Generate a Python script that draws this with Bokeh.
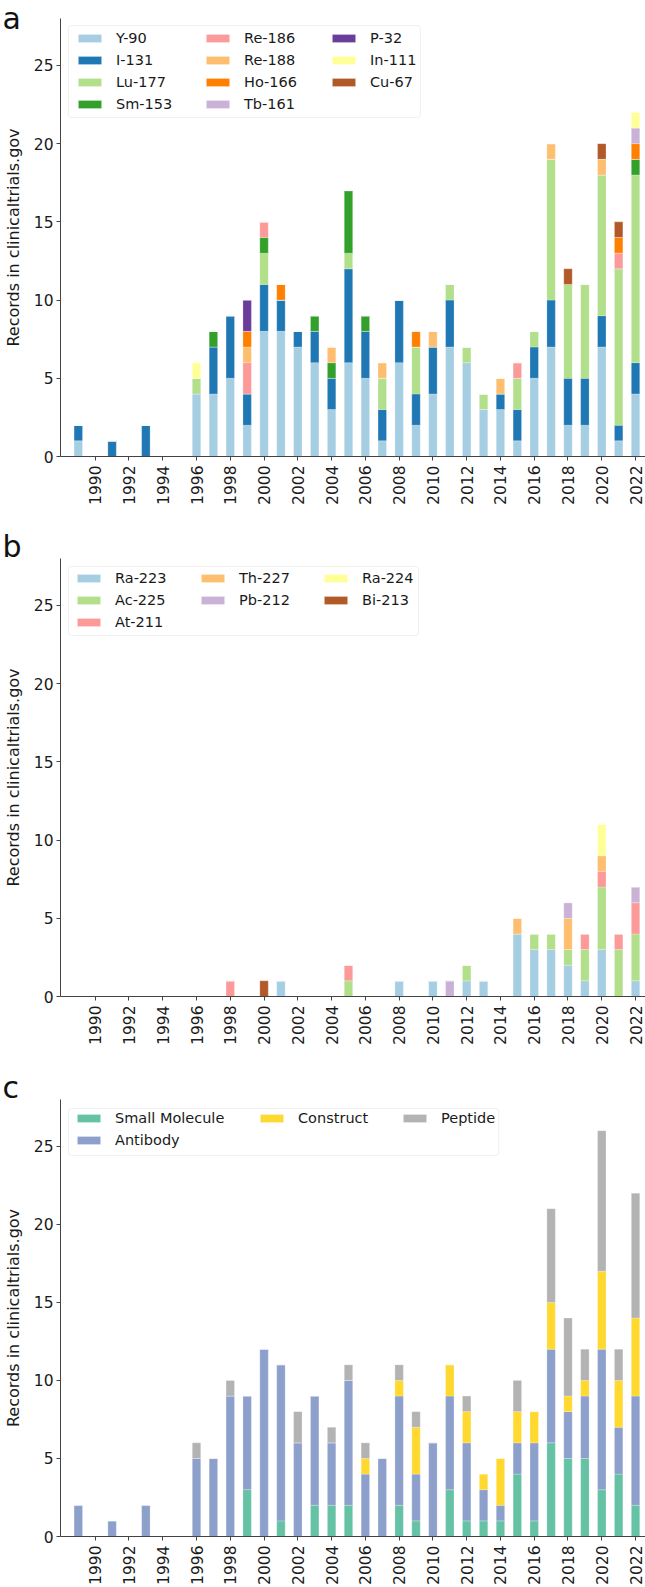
import numpy as np
from bokeh.plotting import figure
from bokeh.layouts import column
from bokeh.models import (ColumnDataSource, Legend, LegendItem, FixedTicker,
                          Range1d, BoxAnnotation)
from bokeh.embed import file_html
from bokeh.resources import INLINE

# ---------------- data ----------------
years = list(range(1989, 2023))
year_ticks = list(range(1990, 2023, 2))
y_ticks = [0, 5, 10, 15, 20, 25]
y_label = "Records in clinicaltrials.gov"

# panel a : beta / other emitters (records per year)
a_labels = ["Y-90", "I-131", "Lu-177", "Sm-153", "Re-186", "Re-188",
            "Ho-166", "Tb-161", "P-32", "In-111", "Cu-67"]
a_colors = ["#a6cee3", "#1f78b4", "#b2df8a", "#33a02c", "#fb9a99", "#fdbf6f",
            "#ff7f00", "#cab2d6", "#6a3d9a", "#ffff99", "#b15928"]
y90 = {1989: 1, 1996: 4, 1997: 4, 1998: 5, 1999: 2, 2000: 8, 2001: 8, 2002: 7, 2003: 6,
       2004: 3, 2005: 6, 2006: 5, 2007: 1, 2008: 6, 2009: 2, 2010: 4, 2011: 7, 2012: 6,
       2013: 3, 2014: 3, 2015: 1, 2016: 5, 2017: 7, 2018: 2, 2019: 2, 2020: 7, 2021: 1, 2022: 4}
i131 = {1989: 1, 1991: 1, 1993: 2, 1997: 3, 1998: 4, 1999: 2, 2000: 3, 2001: 2, 2002: 1,
        2003: 2, 2004: 2, 2005: 6, 2006: 3, 2007: 2, 2008: 4, 2009: 2, 2010: 3, 2011: 3,
        2014: 1, 2015: 2, 2016: 2, 2017: 3, 2018: 3, 2019: 3, 2020: 2, 2021: 1, 2022: 2}
lu177 = {1996: 1, 2000: 2, 2005: 1, 2007: 2, 2009: 3, 2011: 1, 2012: 1, 2013: 1, 2015: 2,
         2016: 1, 2017: 9, 2018: 6, 2019: 6, 2020: 9, 2021: 10, 2022: 12}
sm153 = {1997: 1, 2000: 1, 2003: 1, 2004: 1, 2005: 4, 2006: 1, 2022: 1}
re186 = {1999: 2, 2000: 1, 2015: 1, 2021: 1}
re188 = {1999: 1, 2004: 1, 2007: 1, 2010: 1, 2014: 1, 2017: 1, 2020: 1}
ho166 = {1999: 1, 2001: 1, 2009: 1, 2021: 1, 2022: 1}
tb161 = {2022: 1}
p32 = {1999: 2}
in111 = {1996: 1, 2022: 1}
cu67 = {2018: 1, 2020: 1, 2021: 1}
a_series = [y90, i131, lu177, sm153, re186, re188, ho166, tb161, p32, in111, cu67]

# panel b : alpha emitters
b_labels = ["Ra-223", "Ac-225", "At-211", "Th-227", "Pb-212", "Ra-224", "Bi-213"]
b_colors = ["#a6cee3", "#b2df8a", "#fb9a99", "#fdbf6f", "#cab2d6", "#ffff99", "#b15928"]
ra223 = {2001: 1, 2008: 1, 2010: 1, 2012: 1, 2013: 1, 2015: 4, 2016: 3, 2017: 3,
         2018: 2, 2019: 1, 2020: 3, 2022: 1}
ac225 = {2005: 1, 2012: 1, 2016: 1, 2017: 1, 2018: 1, 2019: 2, 2020: 4, 2021: 3, 2022: 3}
at211 = {1998: 1, 2005: 1, 2019: 1, 2020: 1, 2021: 1, 2022: 2}
th227 = {2015: 1, 2018: 2, 2020: 1}
pb212 = {2011: 1, 2018: 1, 2022: 1}
ra224 = {2020: 2}
bi213 = {2000: 1}
b_series = [ra223, ac225, at211, th227, pb212, ra224, bi213]

# panel c : carrier molecule type
c_labels = ["Small Molecule", "Antibody", "Construct", "Peptide"]
c_colors = ["#66c2a5", "#8da0cb", "#ffd92f", "#b3b3b3"]
small_molecule = {1999: 3, 2001: 1, 2003: 2, 2004: 2, 2005: 2, 2008: 2, 2009: 1, 2011: 3,
                  2012: 1, 2013: 1, 2014: 1, 2015: 4, 2016: 1, 2017: 6, 2018: 5, 2019: 5,
                  2020: 3, 2021: 4, 2022: 2}
antibody = {1989: 2, 1991: 1, 1993: 2, 1996: 5, 1997: 5, 1998: 9, 1999: 6, 2000: 12,
            2001: 10, 2002: 6, 2003: 7, 2004: 4, 2005: 8, 2006: 4, 2007: 5, 2008: 7,
            2009: 3, 2010: 6, 2011: 6, 2012: 5, 2013: 2, 2014: 1, 2015: 2, 2016: 5,
            2017: 6, 2018: 3, 2019: 4, 2020: 9, 2021: 3, 2022: 7}
construct = {2006: 1, 2008: 1, 2009: 3, 2011: 2, 2012: 2, 2013: 1, 2014: 3, 2015: 2,
             2016: 2, 2017: 3, 2018: 1, 2019: 1, 2020: 5, 2021: 3, 2022: 5}
peptide = {1996: 1, 1998: 1, 2002: 2, 2004: 1, 2005: 1, 2006: 1, 2008: 1, 2009: 1,
           2012: 1, 2015: 2, 2017: 6, 2018: 5, 2019: 2, 2020: 9, 2021: 2, 2022: 8}
c_series = [small_molecule, antibody, construct, peptide]

# ---------------- layout ----------------
FONT = "DejaVu Sans"
W = 645
BORDER_L = 55
BORDER_R = 0
FRAME_W = W - BORDER_L - BORDER_R
FRAME_H = 438
PPX = 17.03
X0 = 1987.945
X1 = X0 + FRAME_W / PPX
Y0, Y1 = 0, 28
PPY = FRAME_H / (Y1 - Y0)
LH, SP, ROW_TOP = 18, 4, 11   # legend row height, row gap, first-row top (px)


def px_x(dx):          # pixels from frame left -> data x
    return X0 + dx / PPX


def px_y(dy):          # pixels below frame top -> data y
    return Y1 - dy / PPY


def panel(letter, labels, colors, series, columns, col_x, box, top, bottom, standoff):
    height = top + FRAME_H + bottom
    p = figure(width=W, height=height, output_backend="svg", toolbar_location=None,
               x_range=Range1d(X0, X1), y_range=Range1d(Y0, Y1),
               min_border_left=BORDER_L, min_border_right=BORDER_R,
               min_border_top=top, min_border_bottom=bottom)
    data = {"x": years}
    for lab, d in zip(labels, series):
        data[lab] = [d.get(yr, 0) for yr in years]
    src = ColumnDataSource(data)
    rends = p.vbar_stack(labels, x="x", width=0.5, color=colors, source=src,
                         line_color="white", line_width=0.4, line_alpha=0.6)
    rmap = dict(zip(labels, rends))

    l, t, r, b = box
    p.add_layout(BoxAnnotation(left=px_x(l), right=px_x(r), top=px_y(t), bottom=px_y(b),
                               fill_color="white", fill_alpha=0.8,
                               line_color="#cccccc", line_width=1, border_radius=3))
    for col, cx in zip(columns, col_x):
        n = len(col)
        h = n * LH + (n - 1) * SP
        leg = Legend(items=[LegendItem(label=c, renderers=[rmap[c]]) for c in col],
                     location=(cx, FRAME_H - ROW_TOP - h), orientation="vertical",
                     margin=0, padding=0, spacing=SP, glyph_width=29, glyph_height=10,
                     label_height=LH, label_standoff=12, label_text_font=FONT,
                     label_text_font_size="14.5px", label_text_color="#1a1a1a",
                     border_line_alpha=0, background_fill_alpha=0)
        p.add_layout(leg)

    # panel letter as the plot title, pulled to the left edge of the canvas
    p.title.text = letter
    p.title.align = "left"
    p.title.vertical_align = "middle"
    p.title.offset = -58
    p.title.text_font = FONT
    p.title.text_font_size = "30px"
    p.title.text_font_style = "normal"
    p.title.text_color = "#111111"
    try:
        p.title.standoff = standoff
    except Exception:
        p.title.standoff = 0

    p.outline_line_color = None
    p.xgrid.visible = False
    p.ygrid.visible = False
    for ax in (p.xaxis[0], p.yaxis[0]):
        ax.axis_line_color = "#444444"
        ax.axis_line_width = 1
        ax.major_tick_line_color = "#444444"
        ax.major_tick_in = 0
        ax.major_tick_out = 4
        ax.minor_tick_line_color = None
        ax.major_label_text_font = FONT
        ax.major_label_text_font_size = "15.5px"
        ax.major_label_text_color = "#1a1a1a"
    p.xaxis.major_label_standoff = 5
    p.yaxis.major_label_standoff = 3
    p.xaxis.ticker = FixedTicker(ticks=year_ticks)
    p.xaxis.major_label_orientation = np.pi / 2
    p.yaxis.ticker = FixedTicker(ticks=y_ticks)
    p.yaxis.axis_label = y_label
    p.yaxis.axis_label_text_font = FONT
    p.yaxis.axis_label_text_font_style = "normal"
    p.yaxis.axis_label_text_font_size = "16px"
    p.yaxis.axis_label_text_color = "#1a1a1a"
    p.yaxis.axis_label_standoff = 8
    return p


pa = panel("a", a_labels, a_colors, a_series,
           [a_labels[0:4], a_labels[4:8], a_labels[8:11]], [15, 143, 269],
           (8, 7, 363, 99), 18, 71, -36)
pb = panel("b", b_labels, b_colors, b_series,
           [b_labels[0:3], b_labels[3:5], b_labels[5:7]], [14, 138, 261],
           (8, 8, 361, 77), 31, 72, -12)
pc = panel("c", c_labels, c_colors, c_series,
           [c_labels[0:2], c_labels[2:3], c_labels[3:4]], [14, 197, 340],
           (8, 9, 442, 56), 31, 50, -12)

layout = column(pa, pb, pc, spacing=0)
open("out.html", "w").write(file_html(layout, INLINE))
